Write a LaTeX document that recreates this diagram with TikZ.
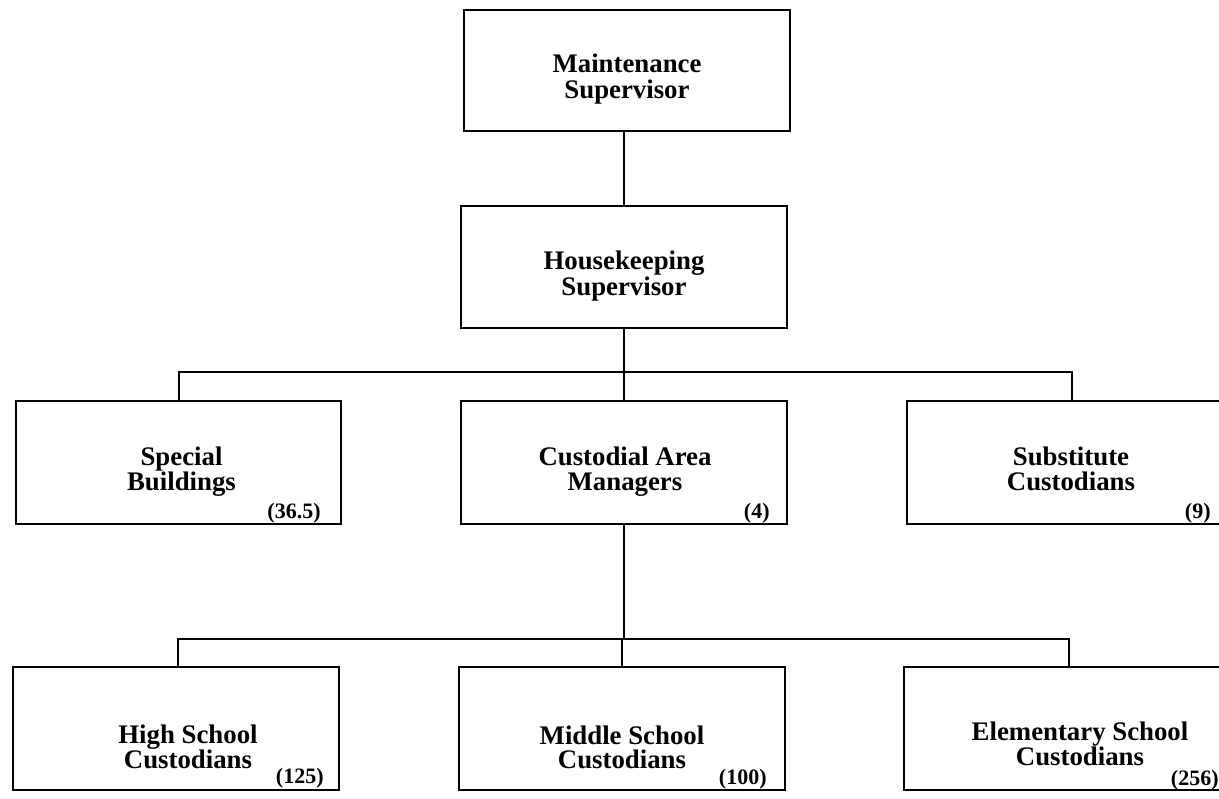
\documentclass[tikz,border=0pt]{standalone}
\usepackage{fontspec}
\setmainfont{Liberation Serif}
\usetikzlibrary{calc}
\begin{document}
\setlength{\lineskiplimit}{-20pt}
\begin{tikzpicture}[x=0.5pt,y=-0.5pt,
  box/.style={draw, line width=1pt, rectangle, inner sep=0pt,
    minimum width=163pt, minimum height=61.5pt},
  title/.style={align=center, inner sep=0pt, anchor=base,
    font=\fontsize{13.4}{12.1}\selectfont\bfseries},
  toptitle/.style={title, font=\fontsize{13.4}{12.9}\selectfont\bfseries},
  count/.style={inner sep=0pt, anchor=base east,
    font=\fontsize{11}{12}\selectfont\bfseries},
  link/.style={line width=1pt}]
\useasboundingbox (0,0) rectangle (1219,798);

% boxes
\node[box, minimum height=60.5pt] (ms) at (627,70.5) {};
\node[box, minimum height=61pt]   (hs) at (624,267) {};
\node[box, minimum width=162.5pt] (sb)  at (178.5,462.5) {};
\node[box] (cam) at (624,462.5) {};
\node[box] (sub) at (1070,462.5) {};
\node[box] (hsc) at (176,728.5) {};
\node[box] (msc) at (622,728.5) {};
\node[box, minimum width=165pt] (esc) at (1069,728.5) {};

% titles (anchored on the baseline of the last line)
\node[toptitle] (ms-t) at ($(ms.center)+(0,27.5)$) {Maintenance\\Supervisor};
\node[toptitle] (hs-t) at ($(hs.center)+(0,28)$)   {Housekeeping\\Supervisor};
\node[title] (sb-t)  at ($(sb.center)+(3,27.5)$)   {Special\\Buildings};
\node[title] (cam-t) at ($(cam.center)+(1,27.5)$)  {Custodial Area\\Managers};
\node[title] (sub-t) at ($(sub.center)+(1,27.5)$)  {Substitute\\Custodians};
\node[title] (hsc-t) at ($(hsc.center)+(12,39.5)$) {High School\\Custodians};
\node[title] (msc-t) at ($(msc.center)+(0,40)$)    {Middle School\\Custodians};
\node[title] (esc-t) at ($(esc.center)+(11,36.5)$) {Elementary School\\Custodians};

% staff counts
\node[count] (sb-n)  at ($(sb.south east)+(-21,-7)$)  {(36.5)};
\node[count] (cam-n) at ($(cam.south east)+(-18,-7)$) {(4)};
\node[count] (sub-n) at ($(sub.south east)+(-23,-7)$) {(9)};
\node[count] (hsc-n) at ($(hsc.south east)+(-16,-8)$) {(125)};
\node[count] (msc-n) at ($(msc.south east)+(-19,-7)$) {(100)};
\node[count] (esc-n) at ($(esc.south east)+(-16,-6)$) {(256)};

% connectors
\draw[link] (hs.north) -- (hs.north |- ms.south);
\coordinate (bus1) at ($(hs.south)+(0,43)$);
\draw[link] (hs.south) -- (bus1);
\draw[link] (bus1) -| (sb.north);
\draw[link] (bus1) -| (cam.north);
\draw[link] (bus1) -| ([xshift=1pt]sub.north);
\coordinate (bus2) at ($(cam.south)+(0,113.5)$);
\draw[link] (cam.south) -- (bus2);
\draw[link] (bus2) -| ([xshift=1pt]hsc.north);
\draw[link] (bus2) -| (msc.north);
\draw[link] (bus2) -| (esc.north);
\end{tikzpicture}
\end{document}
